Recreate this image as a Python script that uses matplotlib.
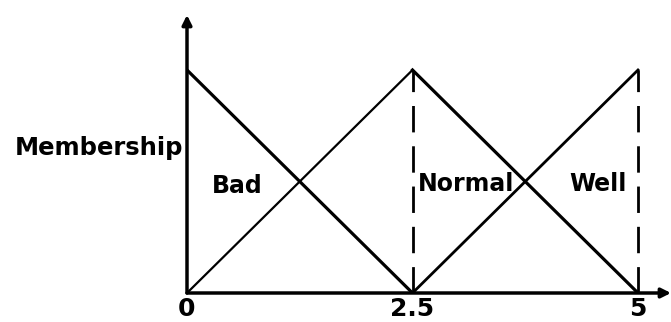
import matplotlib
matplotlib.use("Agg")
import matplotlib.pyplot as plt

plt.rcParams['lines.scale_dashes'] = False

# membership functions (x, degree)
bad_x = [0, 2.5]
bad_y = [1, 0]
normal_x = [0, 2.5, 5]
normal_y = [0, 1, 0]
well_x = [2.5, 5]
well_y = [0, 1]

guide_x = [2.5, 5]
tick_pos = [0, 2.5, 5]
tick_labels = ['0', '2.5', '5']

labels = ['Bad', 'Normal', 'Well']
label_x = [0.28, 2.56, 4.24]
label_y = [0.48, 0.49, 0.49]

fig = plt.figure(figsize=(6.71, 3.22), dpi=100)
ax = fig.add_axes([187 / 671, 1 - 293 / 322, 484 / 671, 278 / 322])
ax.set_xlim(0, 484 / 90.2)
ax.set_ylim(0, 278 / 223)
for s in ax.spines.values():
    s.set_visible(False)
ax.set_yticks([])
ax.set_xticks(tick_pos)
ax.set_xticklabels(tick_labels, fontsize=18, fontweight='bold')
ax.tick_params(axis='x', length=0, pad=3)

# axes with arrows
xmax = ax.get_xlim()[1]
ymax = ax.get_ylim()[1]
ax.annotate('', xy=(xmax, 0), xytext=(0, 0),
            arrowprops=dict(arrowstyle='-|>', lw=2.5, color='black',
                            mutation_scale=14, shrinkA=0, shrinkB=0),
            annotation_clip=False)
ax.annotate('', xy=(0, ymax), xytext=(0, 0),
            arrowprops=dict(arrowstyle='-|>', lw=2.5, color='black',
                            mutation_scale=14, shrinkA=0, shrinkB=0),
            annotation_clip=False)

ax.plot(bad_x, bad_y, color='black', lw=2.3, solid_capstyle='butt')
ax.plot(normal_x[:2], normal_y[:2], color='black', lw=1.6)
ax.plot(normal_x[1:], normal_y[1:], color='black', lw=2.3)
ax.plot(well_x, well_y, color='black', lw=2.0)

for gx in guide_x:
    ax.plot([gx, gx], [0, 1], color='black', lw=2.0,
            linestyle=(0, (19, 10)))

for t, tx, ty in zip(labels, label_x, label_y):
    ax.text(tx, ty, t, fontsize=17, fontweight='bold', ha='left', va='center')

fig.text(15 / 671, 1 - 148 / 322, 'Membership', fontsize=17.5,
         fontweight='bold', ha='left', va='center')

fig.savefig('out.png', dpi=100)
